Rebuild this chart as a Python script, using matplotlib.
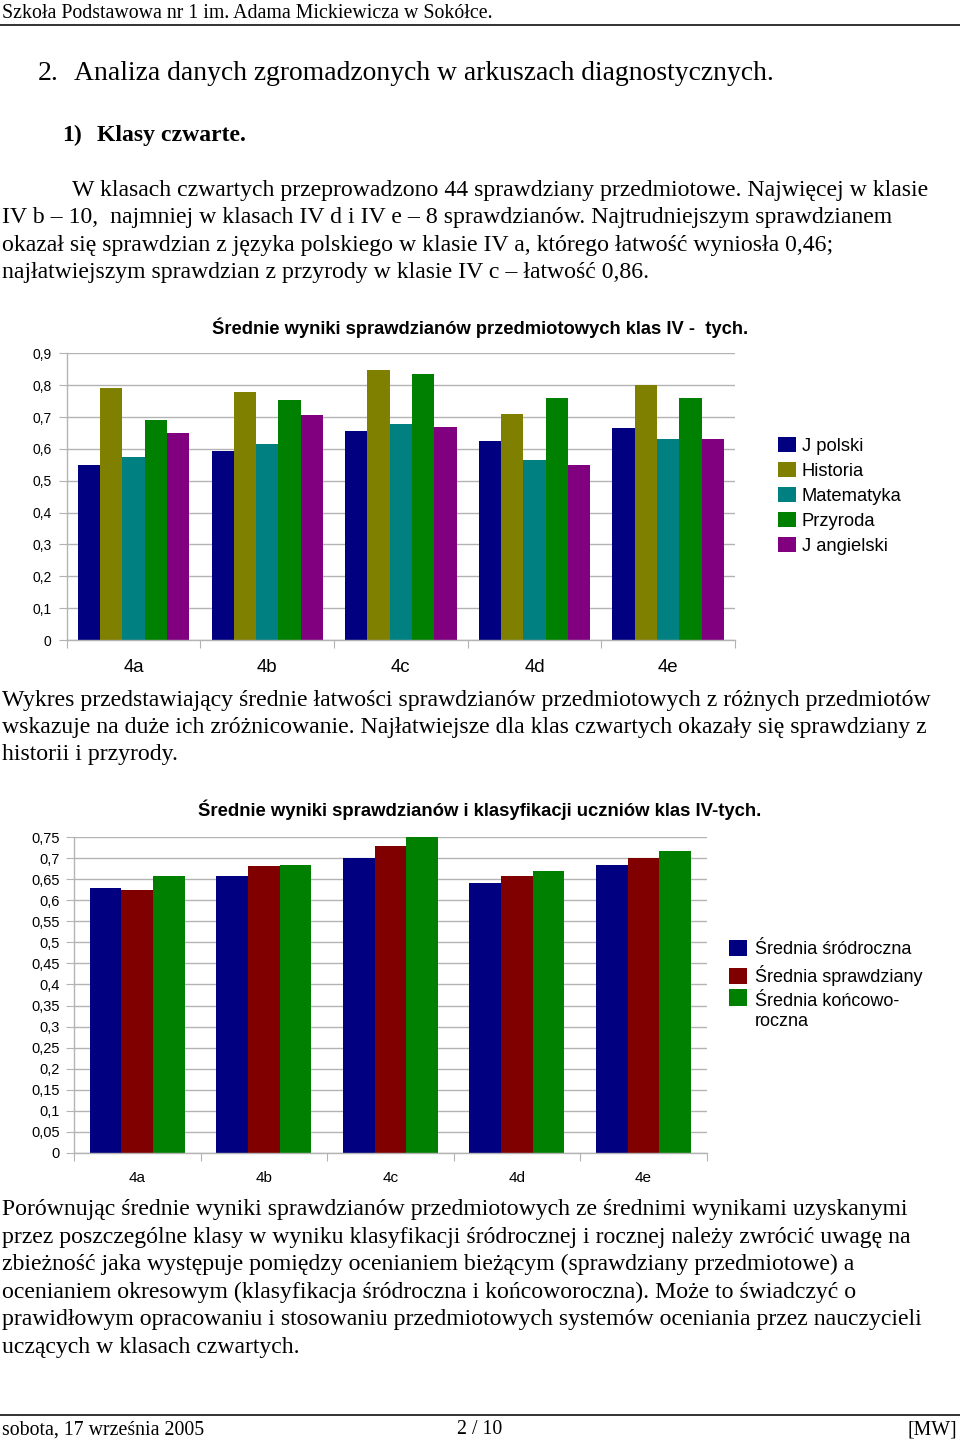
import matplotlib
matplotlib.use('Agg')
import matplotlib.pyplot as plt
import numpy as np
from matplotlib.ticker import FuncFormatter
from matplotlib.lines import Line2D
from matplotlib.patches import Rectangle
from matplotlib.legend_handler import HandlerPatch
from matplotlib.container import BarContainer

# ---------------- data ----------------
classes = ['4a', '4b', '4c', '4d', '4e']

subjects = ['J polski', 'Historia', 'Matematyka', 'Przyroda', 'J angielski']
j_polski = [0.549, 0.594, 0.655, 0.624, 0.665]
historia = [0.790, 0.780, 0.849, 0.709, 0.800]
matematyka = [0.574, 0.615, 0.677, 0.565, 0.631]
przyroda = [0.690, 0.753, 0.836, 0.760, 0.760]
j_angielski = [0.650, 0.705, 0.670, 0.549, 0.631]
subject_colors = ['#000080', '#808000', '#008080', '#008000', '#800080']

avg_labels = ['Średnia śródroczna', 'Średnia sprawdziany', 'Średnia końcowo-\nroczna']
srodroczna = [0.630, 0.657, 0.700, 0.641, 0.683]
sprawdziany = [0.624, 0.682, 0.730, 0.658, 0.701]
koncoworoczna = [0.657, 0.683, 0.750, 0.670, 0.717]
avg_colors = ['#000080', '#800000', '#008000']

y1_ticks = [0, 0.1, 0.2, 0.3, 0.4, 0.5, 0.6, 0.7, 0.8, 0.9]
y2_ticks = [0, 0.05, 0.1, 0.15, 0.2, 0.25, 0.3, 0.35, 0.4, 0.45, 0.5,
            0.55, 0.6, 0.65, 0.7, 0.75]

title1 = 'Średnie wyniki sprawdzianów przedmiotowych klas IV -  tych.'
title2 = 'Średnie wyniki sprawdzianów i klasyfikacji uczniów klas IV-tych.'

header = 'Szkoła Podstawowa nr 1 im. Adama Mickiewicza w Sokółce.'
heading = 'Analiza danych zgromadzonych w arkuszach diagnostycznych.'
subheading = 'Klasy czwarte.'
para1 = [
    'W klasach czwartych przeprowadzono 44 sprawdziany przedmiotowe. Najwięcej w klasie',
    'IV b – 10,  najmniej w klasach IV d i IV e – 8 sprawdzianów. Najtrudniejszym sprawdzianem',
    'okazał się sprawdzian z języka polskiego w klasie IV a, którego łatwość wyniosła 0,46;',
    'najłatwiejszym sprawdzian z przyrody w klasie IV c – łatwość 0,86.',
]
para2 = [
    'Wykres przedstawiający średnie łatwości sprawdzianów przedmiotowych z różnych przedmiotów',
    'wskazuje na duże ich zróżnicowanie. Najłatwiejsze dla klas czwartych okazały się sprawdziany z',
    'historii i przyrody.',
]
para3 = [
    'Porównując średnie wyniki sprawdzianów przedmiotowych ze średnimi wynikami uzyskanymi',
    'przez poszczególne klasy w wyniku klasyfikacji śródrocznej i rocznej należy zwrócić uwagę na',
    'zbieżność jaka występuje pomiędzy ocenianiem bieżącym (sprawdziany przedmiotowe) a',
    'ocenianiem okresowym (klasyfikacja śródroczna i końcoworoczna). Może to świadczyć o',
    'prawidłowym opracowaniu i stosowaniu przedmiotowych systemów oceniania przez nauczycieli',
    'uczących w klasach czwartych.',
]
footer_left = 'sobota, 17 września 2005'
footer_mid = '2 / 10'
footer_right = '[MW]'

# ---------------- figure ----------------
W, H = 960, 1440
fig = plt.figure(figsize=(9.6, 14.4), dpi=100)
fig.patch.set_facecolor('white')

SERIF = ['Liberation Serif', 'DejaVu Serif']
SANS = ['Liberation Sans', 'DejaVu Sans']
plt.rcParams['font.family'] = SANS


def fx(x):
    return x / W


def fy(y):
    return 1 - y / H


def comma_fmt(v, pos=None):
    return ('%g' % round(v, 2)).replace('.', ',')


GRID = '#b3b3b3'


def style_axes(ax, ymax, yticks, fs_y, fs_x, xpad, ypad):
    n = len(classes)
    ax.set_xlim(0, n)
    ax.set_ylim(0, ymax)
    for s in ['top', 'right']:
        ax.spines[s].set_visible(False)
    for s in ['left', 'bottom']:
        ax.spines[s].set_color(GRID)
        ax.spines[s].set_linewidth(1.0)
    ax.set_yticks(yticks)
    ax.yaxis.set_major_formatter(FuncFormatter(comma_fmt))
    ax.grid(axis='y', color=GRID, lw=1.0)
    ax.set_axisbelow(True)
    ax.set_xticks(np.arange(n + 1))
    ax.set_xticklabels([])
    ax.set_xticks(np.arange(n) + 0.5, minor=True)
    ax.set_xticklabels(classes, minor=True)
    ax.tick_params(axis='x', which='major', length=5.8, color=GRID, direction='out')
    ax.tick_params(axis='x', which='minor', length=0, pad=xpad, labelsize=fs_x)
    ax.tick_params(axis='y', length=5.8, color=GRID, labelsize=fs_y, pad=ypad)


class TopPatchHandler(HandlerPatch):
    """Legend square aligned with the first line of a two-line label."""

    def __init__(self, shift, **kw):
        super().__init__(**kw)
        self.shift = shift

    def create_artists(self, legend, orig_handle, xdescent, ydescent, width,
                       height, fontsize, trans):
        p = Rectangle((-xdescent, -ydescent + self.shift), width, height)
        src = orig_handle[0] if isinstance(orig_handle, BarContainer) else orig_handle
        self.update_prop(p, src, legend)
        p.set_transform(trans)
        return [p]


# ---- chart 1 ----
ax1 = fig.add_axes([fx(66.7), fy(640), (735 - 66.7) / W, (640 - 353.3) / H])
series1 = [j_polski, historia, matematyka, przyroda, j_angielski]
centers = np.arange(len(classes)) + 0.5
bw1 = 0.8333 / len(series1)
handles1 = []
for i, (vals, col) in enumerate(zip(series1, subject_colors)):
    off = (i - (len(series1) - 1) / 2) * bw1
    b = ax1.bar(centers + off, vals, width=bw1, color=col, edgecolor='none')
    handles1.append(b)
style_axes(ax1, 0.9, y1_ticks, 10, 13.4, 13.5, 5)
fig.text(fx(480), fy(328), title1, ha='center', va='center',
         fontsize=13.2, fontweight='bold', family=SANS)
fig.legend(handles1, subjects, loc='upper left',
           bbox_to_anchor=(fx(777.5), fy(437)), bbox_transform=fig.transFigure,
           frameon=False, fontsize=13.2, handlelength=1.02, handleheight=0.92,
           handletextpad=0.31, labelspacing=0.38, borderpad=0, borderaxespad=0)

# ---- chart 2 ----
ax2 = fig.add_axes([fx(74), fy(1152.7), (706.7 - 74) / W, (1152.7 - 837.3) / H])
series2 = [srodroczna, sprawdziany, koncoworoczna]
bw2 = 0.75 / len(series2)
handles2 = []
for i, (vals, col) in enumerate(zip(series2, avg_colors)):
    off = (i - (len(series2) - 1) / 2) * bw2
    b = ax2.bar(centers + off, vals, width=bw2, color=col, edgecolor='none')
    handles2.append(b)
style_axes(ax2, 0.75, y2_ticks, 10.5, 11, 13, 4.5)
fig.text(fx(480), fy(810), title2, ha='center', va='center',
         fontsize=13.3, fontweight='bold', family=SANS)
fig.legend(handles2, avg_labels, loc='upper left',
           bbox_to_anchor=(fx(728.5), fy(939.5)), bbox_transform=fig.transFigure,
           frameon=False, fontsize=13.0, handlelength=1.05, handleheight=1.03,
           handletextpad=0.43, labelspacing=0.4, borderpad=0, borderaxespad=0,
           handler_map={handles2[2]: TopPatchHandler(shift=10.5)})

# ---- document text ----
BODY = 17.1
fig.text(fx(2), fy(14), header, ha='left', va='center', fontsize=14.3, family=SERIF)
fig.add_artist(Line2D([fx(0), fx(960)], [fy(25), fy(25)], transform=fig.transFigure,
                      color='#222222', lw=1.3))
fig.text(fx(38), fy(74), '2.', ha='left', va='center', fontsize=19.9, family=SERIF)
fig.text(fx(74), fy(74), heading, ha='left', va='center', fontsize=19.9, family=SERIF)
fig.text(fx(62), fy(135), '1)', ha='left', va='center', fontsize=BODY,
         fontweight='bold', family=SERIF)
fig.text(fx(97), fy(135), subheading, ha='left', va='center', fontsize=BODY,
         fontweight='bold', family=SERIF)

for k, line in enumerate(para1):
    x = 72 if k == 0 else 2
    fig.text(fx(x), fy(190.5 + k * 27.3), line, ha='left', va='center',
             fontsize=BODY, family=SERIF)
for k, line in enumerate(para2):
    fig.text(fx(2), fy(700 + k * 27.3), line, ha='left', va='center',
             fontsize=BODY, family=SERIF)
for k, line in enumerate(para3):
    fig.text(fx(2), fy(1210 + k * 27.4), line, ha='left', va='center',
             fontsize=BODY, family=SERIF)

fig.add_artist(Line2D([fx(0), fx(960)], [fy(1415), fy(1415)], transform=fig.transFigure,
                      color='#222222', lw=1.3))
fig.text(fx(2), fy(1430), footer_left, ha='left', va='center', fontsize=14.3, family=SERIF)
fig.text(fx(480), fy(1430), footer_mid, ha='center', va='center', fontsize=14.3, family=SERIF)
fig.text(fx(957), fy(1430), footer_right, ha='right', va='center', fontsize=14.3, family=SERIF)

fig.savefig('out.png', dpi=100, facecolor='white')
